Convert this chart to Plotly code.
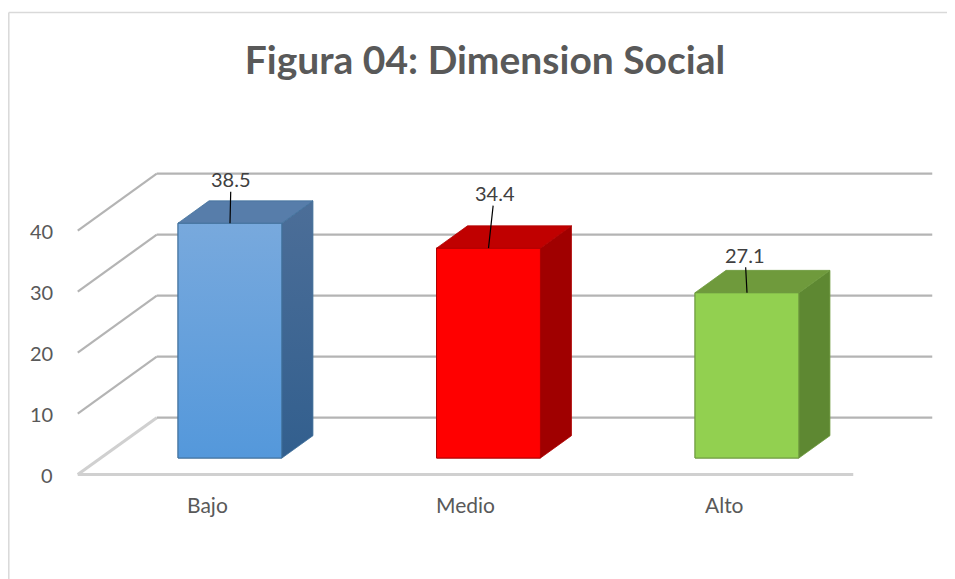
import plotly.graph_objects as go

# ---------------- data ----------------
categories = ["Bajo", "Medio", "Alto"]
values = [38.5, 34.4, 27.1]
y_ticks = [0, 10, 20, 30, 40]
title_text = "Figura 04: Dimension Social"

# ---------------- style ----------------
front_colors = ["#649FDB", "#FF0000", "#92D050"]
front_grad = [("#5498DB", "#78A9DD"), ("#FF0000", "#FF0000"), ("#92D050", "#92D050")]
side_grad = [("#325F8E", "#4C6E98"), ("#A00000", "#A00000"), ("#5E8832", "#5E8832")]
top_colors = ["#577DAA", "#C00000", "#6F9A3C"]
edge_colors = ["#41719C", "#B00000", "#6E9A3F"]
label_offsets = [(1, -44), (6, -55), (-2, -38)]  # pixel offsets of data labels

W, H = 955, 579
PAGE_OFF = 8                     # browser default body margin
FW, FH = W - PAGE_OFF, H - PAGE_OFF
PX_PER_CAT = 258.5
PX_PER_VAL = 6.1
X0_PX = 230.0 - PAGE_OFF
Y0_PX = 458.0 - PAGE_OFF
SLOPE = 0.72
BAR_W = 0.402
BAR_DEPTH = 31
WALL_Z = 56
AXIS_Z = -23
C_LEFT, C_RIGHT = -0.5, 2.5
FONT = "Lato"
TXT = "#595959"


def proj(c, v, z):
    return c + z / PX_PER_CAT, v + SLOPE * z / PX_PER_VAL


fig = go.Figure()

# front faces as bars
xs = list(range(len(categories)))
fig.add_trace(go.Bar(
    x=xs, y=values, width=BAR_W,
    marker=dict(color=front_colors, line=dict(color=edge_colors, width=1)),
    hoverinfo="skip", showlegend=False,
))

# 3D faces
for i, v in enumerate(values):
    l, r = i - BAR_W / 2, i + BAR_W / 2
    fx = [l, r, r, l, l]
    fy = [0, 0, v, v, 0]
    fig.add_trace(go.Scatter(
        x=fx, y=fy, mode="lines", fill="toself",
        fillgradient=dict(type="vertical",
                          colorscale=[[0, front_grad[i][0]], [1, front_grad[i][1]]]),
        line=dict(color=edge_colors[i], width=1), hoverinfo="skip", showlegend=False,
    ))
    pts = [proj(r, 0, 0), proj(r, 0, BAR_DEPTH), proj(r, v, BAR_DEPTH), proj(r, v, 0), proj(r, 0, 0)]
    fig.add_trace(go.Scatter(
        x=[p[0] for p in pts], y=[p[1] for p in pts], mode="lines", fill="toself",
        fillgradient=dict(type="vertical",
                          colorscale=[[0, side_grad[i][0]], [1, side_grad[i][1]]]),
        line=dict(color=edge_colors[i], width=0.8), hoverinfo="skip", showlegend=False,
    ))
    pts = [proj(l, v, 0), proj(l, v, BAR_DEPTH), proj(r, v, BAR_DEPTH), proj(r, v, 0), proj(l, v, 0)]
    fig.add_trace(go.Scatter(
        x=[p[0] for p in pts], y=[p[1] for p in pts], mode="lines", fill="toself",
        fillcolor=top_colors[i],
        line=dict(color=edge_colors[i], width=0.8), hoverinfo="skip", showlegend=False,
    ))

shapes = []
for t in y_ticks:
    a = proj(C_LEFT, t, AXIS_Z)
    b = proj(C_LEFT, t, WALL_Z)
    c = proj(C_RIGHT, t, WALL_Z)
    diag_col = "#D0D0D0" if t == 0 else "#B4B4B4"
    diag_w = 3 if t == 0 else 2.2
    shapes.append(dict(type="line", xref="x", yref="y", x0=a[0], y0=a[1], x1=b[0], y1=b[1],
                       line=dict(color=diag_col, width=diag_w), layer="below"))
    shapes.append(dict(type="line", xref="x", yref="y", x0=b[0], y0=b[1], x1=c[0], y1=c[1],
                       line=dict(color="#B4B4B4", width=2.2), layer="below"))
a = proj(C_LEFT, 0, AXIS_Z)
b = proj(C_RIGHT, 0, AXIS_Z)
shapes.append(dict(type="line", xref="x", yref="y", x0=a[0], y0=a[1], x1=b[0], y1=b[1],
                   line=dict(color="#D0D0D0", width=3), layer="below"))
# chart border (only left and top edges fall inside the picture)
shapes.append(dict(type="line", xref="paper", yref="paper",
                   x0=0.8 / FW, y0=-0.1, x1=0.8 / FW, y1=1 - 4.5 / FH,
                   line=dict(color="#D9D9D9", width=1.5), layer="below"))
shapes.append(dict(type="line", xref="paper", yref="paper",
                   x0=0.8 / FW, y0=1 - 4.5 / FH, x1=1.1, y1=1 - 4.5 / FH,
                   line=dict(color="#D9D9D9", width=1.5), layer="below"))

annotations = []
for t in y_ticks:
    p = proj(C_LEFT, t, AXIS_Z)
    annotations.append(dict(x=p[0], y=p[1], xref="x", yref="y", text=str(t), showarrow=False,
                            xanchor="right", yanchor="middle", xshift=-23,
                            font=dict(family=FONT, size=20, color=TXT)))
for i, cat in enumerate(categories):
    p = proj(i, 0, AXIS_Z)
    annotations.append(dict(x=p[0], y=p[1], xref="x", yref="y", text=cat, showarrow=False,
                            xanchor="center", yanchor="middle", yshift=-30,
                            font=dict(family=FONT, size=21, color=TXT)))
for i, v in enumerate(values):
    ax, ay = label_offsets[i]
    annotations.append(dict(x=i, y=v, xref="x", yref="y", text=f"{v:.1f}", showarrow=True,
                            ax=ax, ay=ay, axref="pixel", ayref="pixel",
                            arrowhead=0, arrowwidth=1.2, arrowcolor="#000000",
                            font=dict(family=FONT, size=20, color="#404040"),
                            borderpad=0))

x_range = [-X0_PX / PX_PER_CAT, (FW - X0_PX) / PX_PER_CAT]
y_range = [(Y0_PX - FH) / PX_PER_VAL, Y0_PX / PX_PER_VAL]

fig.update_layout(
    width=FW, height=FH,
    margin=dict(l=0, r=0, t=0, b=0),
    paper_bgcolor="white", plot_bgcolor="white",
    title=dict(text=title_text, x=(485 - PAGE_OFF) / FW, y=1 - (60 - PAGE_OFF) / FH,
               xanchor="center", yanchor="middle",
               font=dict(family=FONT, size=39, color=TXT, weight="bold")),
    xaxis=dict(range=x_range, visible=False, fixedrange=True),
    yaxis=dict(range=y_range, visible=False, fixedrange=True),
    shapes=shapes, annotations=annotations,
    showlegend=False,
)

fig.write_html("out.html", config={"displayModeBar": False})
